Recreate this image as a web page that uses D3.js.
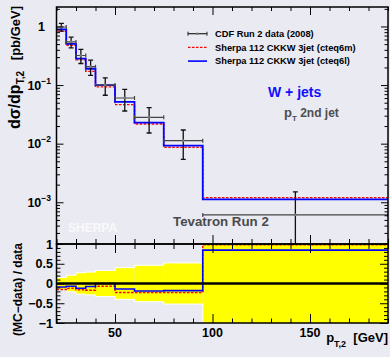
<!DOCTYPE html>
<html>
<head>
<meta charset="utf-8">
<script src="https://cdn.jsdelivr.net/npm/d3@7"></script>
<style>
body { margin: 0; background: #eaeaf2; }
svg { display: block; font-family: "Liberation Sans", Arial, Helvetica, sans-serif; font-weight: bold; }
</style>
</head>
<body>
<svg id="chart" width="390" height="357"></svg>
<script>
// pT,2 bins [GeV]
var binLo = [20, 25, 30, 35, 40, 50, 60, 75, 95]
var binHi = [25, 30, 35, 40, 50, 60, 75, 95, 190]
// CDF Run 2 data (2008), dsigma/dpT2 [pb/GeV]
var dataVal = [0.98, 0.544, 0.32, 0.206, 0.100, 0.0602, 0.0282, 0.01125, 0.000607]
var dataErr = [0.147, 0.114, 0.0864, 0.0597, 0.033, 0.0241, 0.0130, 0.00585, 0.0009]
// Sherpa 112 CKKW 3jet
var sherpaM = [0.833, 0.479, 0.269, 0.171, 0.093, 0.0464, 0.0217, 0.00866, 0.00120]  // cteq6m
var sherpaL = [0.892, 0.506, 0.282, 0.190, 0.100, 0.0518, 0.0228, 0.00923, 0.00112]  // cteq6l
var legendLabels = ['CDF Run 2 data (2008)', 'Sherpa 112 CKKW 3jet (cteq6m)', 'Sherpa 112 CKKW 3jet (cteq6l)']
var xTicks = [50, 100, 150]
var logTicks = [1, 1e-1, 1e-2, 1e-3]
var ratioTicks = [1, 0.5, 0, -0.5, -1]
var ratioLabels = ['1', '0.5', '0', '\u22120.5', '\u22121']

var svg = d3.select('#chart')

var x = d3.scaleLinear().domain([20, 190]).range([56.5, 388])
var y = d3.scaleLog().domain([1.94e-4, 2.15]).range([244, 7])
var r = d3.scaleLinear().domain([-1, 1]).range([323, 244])

var bins = binLo.map(function(lo, i) {
    return {lo: lo, hi: binHi[i], v: dataVal[i], e: dataErr[i], m: sherpaM[i], l: sherpaL[i]}
})

// clip regions
var defs = svg.append('defs')
defs.append('clipPath').attr('id', 'clipTop').append('rect')
    .attr('x', x(20)).attr('y', y(2.15)).attr('width', x(190) - x(20)).attr('height', y(1.94e-4) - y(2.15))
defs.append('clipPath').attr('id', 'clipRatio').append('rect')
    .attr('x', x(20)).attr('y', r(1)).attr('width', x(190) - x(20)).attr('height', r(-1) - r(1))

// minor ticks
var xMinor = d3.range(20, 191, 10).filter(function(d) { return d % 50 != 0 })
var logMinor = []
for (var p = -4; p <= 0; p++) {
    for (var k = 2; k <= 9; k++) {
        var v = k * Math.pow(10, p)
        if (v > 1.94e-4 && v < 2.15) logMinor.push(v)
    }
}
var rMinor = d3.range(-10, 11).filter(function(d) { return d % 5 != 0 }).map(function(d) { return d / 10 })

function tickAxis(axis, pos, size, values) {
    var g = svg.append('g')
        .attr('transform', pos)
        .call(axis.tickValues(values).tickSize(size).tickFormat(''))
    g.select('.domain').remove()
    g.selectAll('line').attr('stroke', '#000').attr('stroke-width', 1)
}

// ---------- top panel ----------
var topG = svg.append('g').attr('clip-path', 'url(#clipTop)')
var line = d3.line()

function stepPoints(vals, sc) {
    var pts = []
    bins.forEach(function(b, i) {
        pts.push([x(b.lo), sc(vals[i])])
        pts.push([x(b.hi), sc(vals[i])])
    })
    return pts
}

topG.append('path')
    .attr('d', line(stepPoints(sherpaM, y)))
    .attr('fill', 'none').attr('stroke', '#ff0000').attr('stroke-width', 1.4)
    .attr('stroke-dasharray', '2.5,1.5')
topG.append('path')
    .attr('d', line(stepPoints(sherpaL, y)))
    .attr('fill', 'none').attr('stroke', '#0000ff').attr('stroke-width', 1.8)

var pts = topG.selectAll('g.pt').data(bins).enter().append('g').attr('class', 'pt')
pts.each(function(b) {
    var g = d3.select(this)
    var cx = x((b.lo + b.hi) / 2), cy = y(b.v)
    var yUp = y(b.v + b.e)
    var yDn = b.v - b.e > 0 ? y(b.v - b.e) : 260
    g.append('line').attr('x1', x(b.lo)).attr('x2', x(b.hi)).attr('y1', cy).attr('y2', cy)
        .attr('stroke', '#444').attr('stroke-width', 1.2)
    g.append('line').attr('x1', x(b.lo)).attr('x2', x(b.lo)).attr('y1', cy - 2).attr('y2', cy + 2)
        .attr('stroke', '#444').attr('stroke-width', 1.2)
    g.append('line').attr('x1', x(b.hi)).attr('x2', x(b.hi)).attr('y1', cy - 2).attr('y2', cy + 2)
        .attr('stroke', '#444').attr('stroke-width', 1.2)
    g.append('line').attr('x1', cx).attr('x2', cx).attr('y1', yUp).attr('y2', yDn)
        .attr('stroke', '#111').attr('stroke-width', 1.3)
    g.append('line').attr('x1', cx - 2.5).attr('x2', cx + 2.5).attr('y1', yUp).attr('y2', yUp)
        .attr('stroke', '#111').attr('stroke-width', 1.3)
    g.append('line').attr('x1', cx - 2.5).attr('x2', cx + 2.5).attr('y1', yDn).attr('y2', yDn)
        .attr('stroke', '#111').attr('stroke-width', 1.3)
    g.append('circle').attr('cx', cx).attr('cy', cy).attr('r', 1.4).attr('fill', '#777')
})

// ---------- ratio panel ----------
var rat = svg.append('g').attr('clip-path', 'url(#clipRatio)')
rat.selectAll('rect.band').data(bins).enter().append('rect')
    .attr('class', 'band')
    .attr('x', function(b) { return x(b.lo) })
    .attr('width', function(b) { return x(b.hi) - x(b.lo) })
    .attr('y', function(b) { return r(Math.min(1.2, b.e / b.v)) })
    .attr('height', function(b) { return r(Math.max(-1.2, -b.e / b.v)) - r(Math.min(1.2, b.e / b.v)) })
    .attr('fill', '#ffff00')

var relUp = bins.map(function(b) { return Math.min(1.2, b.e / b.v) })
var relDn = bins.map(function(b) { return Math.max(-1.2, -b.e / b.v) })
rat.append('path').attr('d', line(stepPoints(relUp, r)))
    .attr('fill', 'none').attr('stroke', '#fff').attr('stroke-width', 1)
rat.append('path').attr('d', line(stepPoints(relDn, r)))
    .attr('fill', 'none').attr('stroke', '#fff').attr('stroke-width', 1)

var ratM = bins.map(function(b) { return b.m / b.v - 1 })
var ratL = bins.map(function(b) { return b.l / b.v - 1 })
rat.append('path').attr('d', line(stepPoints(ratM, r)))
    .attr('fill', 'none').attr('stroke', '#ff0000').attr('stroke-width', 1.4)
    .attr('stroke-dasharray', '2.5,1.5')
rat.append('path').attr('d', line(stepPoints(ratL, r)))
    .attr('fill', 'none').attr('stroke', '#0000ff').attr('stroke-width', 1.6)
rat.append('line').attr('x1', x(20)).attr('x2', x(190)).attr('y1', r(0)).attr('y2', r(0))
    .attr('stroke', '#000').attr('stroke-width', 2.6)

// ---------- ticks ----------
tickAxis(d3.axisBottom(x), 'translate(0,' + y.range()[0] + ')', -9, xTicks)
tickAxis(d3.axisBottom(x), 'translate(0,' + y.range()[0] + ')', -5, xMinor)
tickAxis(d3.axisTop(x), 'translate(0,' + y.range()[1] + ')', -8, xTicks)
tickAxis(d3.axisTop(x), 'translate(0,' + y.range()[1] + ')', -4, xMinor)
tickAxis(d3.axisLeft(y), 'translate(' + x(20) + ',0)', -7, logTicks)
tickAxis(d3.axisLeft(y), 'translate(' + x(20) + ',0)', -3.5, logMinor)
tickAxis(d3.axisRight(y), 'translate(' + x(190) + ',0)', -7, logTicks)
tickAxis(d3.axisRight(y), 'translate(' + x(190) + ',0)', -3.5, logMinor)

tickAxis(d3.axisTop(x), 'translate(0,' + r(1) + ')', -9, xTicks)
tickAxis(d3.axisTop(x), 'translate(0,' + r(1) + ')', -5, xMinor)
tickAxis(d3.axisBottom(x), 'translate(0,' + r(-1) + ')', -9, xTicks)
tickAxis(d3.axisBottom(x), 'translate(0,' + r(-1) + ')', -4.5, xMinor)
tickAxis(d3.axisLeft(r), 'translate(' + x(20) + ',0)', -8, ratioTicks)
tickAxis(d3.axisLeft(r), 'translate(' + x(20) + ',0)', -4, rMinor)
tickAxis(d3.axisRight(r), 'translate(' + x(190) + ',0)', -8, ratioTicks)
tickAxis(d3.axisRight(r), 'translate(' + x(190) + ',0)', -4, rMinor)

// frames
svg.append('rect').attr('x', x(20)).attr('y', y.range()[1])
    .attr('width', x(190) - x(20)).attr('height', y.range()[0] - y.range()[1])
    .attr('fill', 'none').attr('stroke', '#000').attr('stroke-width', 1.5)
svg.append('rect').attr('x', x(20)).attr('y', r(1))
    .attr('width', x(190) - x(20)).attr('height', r(-1) - r(1))
    .attr('fill', 'none').attr('stroke', '#000').attr('stroke-width', 1.5)

// ---------- labels ----------
logTicks.forEach(function(t) {
    if (t == 1) {
        svg.append('text').attr('x', 45).attr('y', y(t) + 4.5)
            .attr('text-anchor', 'end').attr('font-size', 12.5).text('1')
    } else {
        var tx = svg.append('text').attr('x', 51).attr('y', y(t) + 4.5)
            .attr('text-anchor', 'end').attr('font-size', 12.5)
        tx.append('tspan').text('10')
        tx.append('tspan').attr('dy', -6).attr('font-size', 8.5)
            .text('\u2212' + Math.round(-Math.log10(t)))
    }
})
ratioTicks.forEach(function(t, i) {
    svg.append('text').attr('x', 53).attr('y', r(t) + 4.5)
        .attr('text-anchor', 'end').attr('font-size', 12.5).text(ratioLabels[i])
})
xTicks.forEach(function(t) {
    svg.append('text').attr('x', x(t)).attr('y', 336.5)
        .attr('text-anchor', 'middle').attr('font-size', 12.5).text(t)
})

// axis titles
var xt = svg.append('text').attr('x', 388).attr('y', 342).attr('text-anchor', 'end').attr('font-size', 13)
xt.append('tspan').text('p')
xt.append('tspan').attr('dy', 5).attr('font-size', 9).text('T,2')
xt.append('tspan').attr('dy', -5).text('\u00a0 [GeV]')

var yt = svg.append('text').attr('transform', 'translate(20,6) rotate(-90)')
    .attr('text-anchor', 'end').attr('font-size', 13)
yt.append('tspan').attr('font-size', 16).text('d\u03c3/dp')
yt.append('tspan').attr('dy', 4).attr('font-size', 10).text('T,2')
yt.append('tspan').attr('dy', -4).text('\u00a0\u00a0 [pb/GeV]')

svg.append('text').attr('transform', 'translate(22,243) rotate(-90)')
    .attr('text-anchor', 'end').attr('font-size', 12).text('(MC\u2212data) / data')

// legend
var lg = svg.append('g')
legendLabels.forEach(function(lab, i) {
    var ly = 33.7 + i * 13.7
    lg.append('text').attr('x', 215).attr('y', ly + 3.3).attr('font-size', 9.3).text(lab)
})
lg.append('line').attr('x1', 188).attr('x2', 207).attr('y1', 33.7).attr('y2', 33.7)
    .attr('stroke', '#222').attr('stroke-width', 1.2)
lg.append('line').attr('x1', 188).attr('x2', 188).attr('y1', 31.7).attr('y2', 35.7).attr('stroke', '#222')
lg.append('line').attr('x1', 207).attr('x2', 207).attr('y1', 31.7).attr('y2', 35.7).attr('stroke', '#222')
lg.append('circle').attr('cx', 197.5).attr('cy', 33.7).attr('r', 1.3).attr('fill', '#777')
lg.append('line').attr('x1', 188).attr('x2', 207).attr('y1', 47.4).attr('y2', 47.4)
    .attr('stroke', '#ff0000').attr('stroke-width', 1.4).attr('stroke-dasharray', '2.5,1.5')
lg.append('line').attr('x1', 188).attr('x2', 207).attr('y1', 61.1).attr('y2', 61.1)
    .attr('stroke', '#0000ff').attr('stroke-width', 1.6)

// annotations
svg.append('text').attr('x', 268).attr('y', 96.5).attr('font-size', 14)
    .attr('fill', '#1010ff').text('W + jets')
var pt = svg.append('text').attr('x', 284).attr('y', 116.5).attr('font-size', 12).attr('fill', '#4e4e4e')
pt.append('tspan').attr('font-size', 13).text('p')
pt.append('tspan').attr('dy', 4).attr('font-size', 8).text('T')
pt.append('tspan').attr('dy', -4).text(' 2nd jet')
svg.append('text').attr('x', 173).attr('y', 226).attr('font-size', 13.3)
    .attr('fill', '#4a4a4a').text('Tevatron Run 2')
svg.append('text').attr('x', 68).attr('y', 232).attr('font-size', 12)
    .attr('fill', '#ffffff').attr('fill-opacity', 0.75).text('SHERPA')
</script>
</body>
</html>
